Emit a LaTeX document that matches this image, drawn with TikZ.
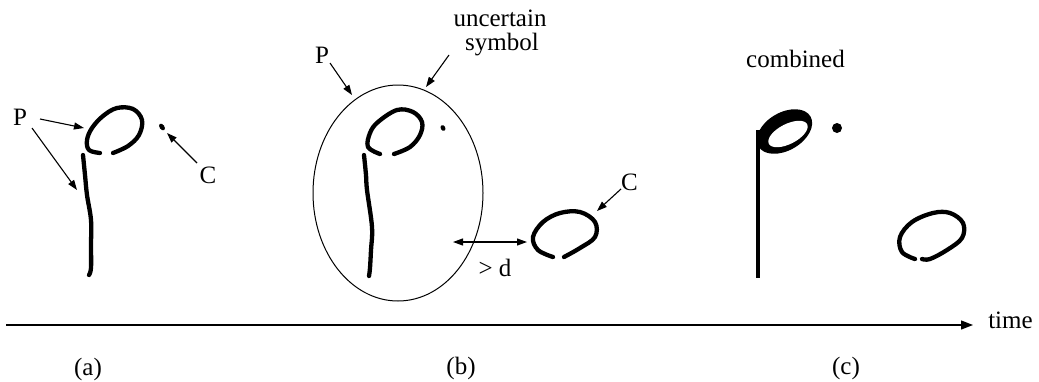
\documentclass[tikz,border=0pt]{standalone}
\usepackage{fontspec}
\setmainfont{Liberation Serif}
\usetikzlibrary{arrows.meta,shapes.geometric}
\begin{document}
\begin{tikzpicture}[x=1pt,y=-1pt,
  lbl/.style={inner sep=0pt, font=\fontsize{25}{30}\selectfont},
  pointer/.style={line width=1.1pt, -{Triangle[length=10pt,width=7pt]}},
  ink/.style={line width=4.3pt, line cap=round, line join=round},
  axisline/.style={line width=1.3pt, -{Triangle[length=12pt,width=9pt]}},
]
\useasboundingbox (0,0) rectangle (1039,381);

% ---------- panel (a)
\draw[ink] plot[smooth, tension=0.6] coordinates {(100,153) (89,150) (87,140) (92,128) (103,116) (117,108) (133,109) (142,120) (139,135) (128,146) (113,153)};
\draw[ink] plot[smooth, tension=0.6] coordinates {(83,155) (85,175) (87,195) (91,220) (91,245) (91,268) (89,275)};
\fill[rotate around={-55:(162,127)}] (162,127) ellipse [x radius=3.8, y radius=2.4];

\node[lbl] (Pa) at (20,117) {P};
\node[lbl] (Ca) at (208,175) {C};
\coordinate (pa1) at (84,128);
\coordinate (pa2) at (77,190);
\coordinate (ca) at (167,133);
\draw[pointer] ([shift={(20,2)}]Pa.center) -- (pa1);
\draw[pointer] ([shift={(12,11)}]Pa.center) -- (pa2);
\draw[pointer] ([shift={(-11,-12)}]Ca.center) -- (ca);

% ---------- panel (b)
\node[draw, ellipse, line width=1pt, minimum width=170pt, minimum height=216pt, inner sep=0pt] (U) at (398,193) {};
\draw[ink] plot[smooth, tension=0.6] coordinates {(380,154) (368,147) (370,133) (378,122) (397,110) (413,112) (422,122) (420,135) (410,147) (394,154)};
\draw[ink] plot[smooth, tension=0.6] coordinates {(364,155) (366,175) (367,190) (372,227) (371,250) (370,268) (369,276)};
\fill[rotate around={-60:(443,128)}] (443,128) ellipse [x radius=3, y radius=2.3];
\draw[ink] plot[smooth, tension=0.6] coordinates {(553,257) (538,250) (533,237) (543,222) (560,213) (580,212) (595,222) (595,237) (580,248) (564,257)};

\node[lbl] (Pb) at (322,55) {P};
\node[lbl, anchor=base] (unc) at (500,26) {uncertain};
\node[lbl, anchor=base] (sym) at (502,50) {symbol};
\node[lbl] (Cb) at (629.5,182.5) {C};
\coordinate (pb) at (352,95);
\coordinate (ub) at (426,87);
\coordinate (cb) at (597,211);
\draw[pointer] ([shift={(8,8)}]Pb.center) -- (pb);
\draw[pointer] ([shift={(-53,5)}]sym.base) -- (ub);
\draw[pointer] ([shift={(-8.5,6.5)}]Cb.center) -- (cb);

\coordinate (dl) at (453,242);
\coordinate (dr) at (527,242);
\draw[line width=1.1pt, {Triangle[length=10pt,width=7pt]}-{Triangle[length=10pt,width=7pt]}] (dl) -- (dr);
\node[lbl] (gd) at (495,268) {> d};

% ---------- panel (c)
\node[lbl, anchor=base] (comb) at (795.5,67) {combined};
\fill[rotate around={30:(784.5,131.5)}] (784.5,131.5) ellipse [x radius=30, y radius=19];
\fill[white, rotate around={27:(788,134)}] (788,134) ellipse [x radius=21.5, y radius=10];
\draw[line width=4pt] (757.5,130) -- (757.5,278);
\fill (837,128) circle [radius=5];
\draw[ink] plot[smooth, tension=0.6] coordinates {(915,259) (902,252) (900,237) (912,222) (933,213) (950,213) (963,223) (962,238) (947,250) (930,259) (922,259)};

% ---------- time axis
\coordinate (ax0) at (6,325);
\coordinate (ax1) at (973,325);
\draw[axisline] (ax0) -- (ax1);
\node[lbl] (time) at (1010.5,320) {time};

\node[lbl] (la) at (88,369) {(a)};
\node[lbl] (lb) at (461,368) {(b)};
\node[lbl] (lc) at (846,368) {(c)};
\end{tikzpicture}
\end{document}
